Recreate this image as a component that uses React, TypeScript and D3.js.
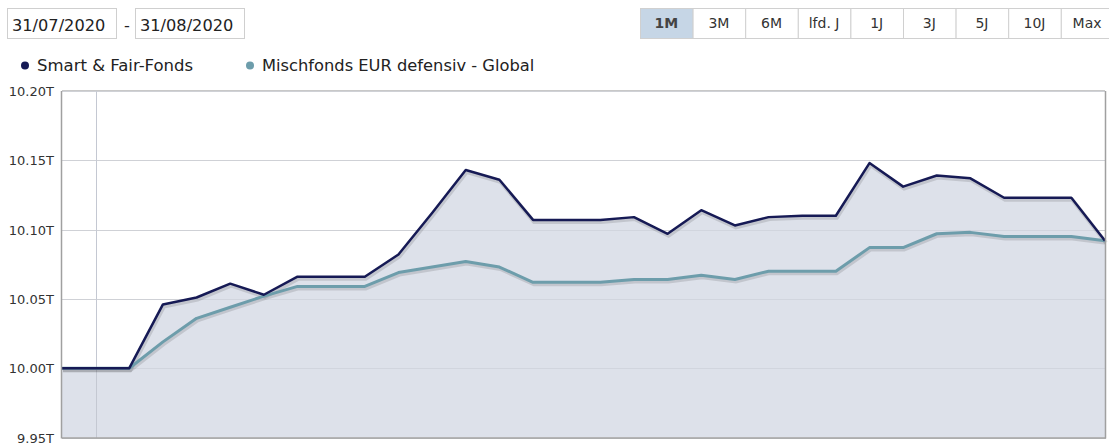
import React from "react";
import * as d3 from "d3";

const dates = [
  "2020-07-31","2020-08-01","2020-08-02","2020-08-03","2020-08-04","2020-08-05","2020-08-06","2020-08-07",
  "2020-08-08","2020-08-09","2020-08-10","2020-08-11","2020-08-12","2020-08-13","2020-08-14","2020-08-15",
  "2020-08-16","2020-08-17","2020-08-18","2020-08-19","2020-08-20","2020-08-21","2020-08-22","2020-08-23",
  "2020-08-24","2020-08-25","2020-08-26","2020-08-27","2020-08-28","2020-08-29","2020-08-30","2020-08-31",
];
const smartFair = [
  10.0, 10.0, 10.0, 10.046, 10.051, 10.061, 10.053, 10.066,
  10.066, 10.066, 10.082, 10.112, 10.143, 10.136, 10.107, 10.107,
  10.107, 10.109, 10.097, 10.114, 10.103, 10.109, 10.110, 10.110,
  10.148, 10.131, 10.139, 10.137, 10.123, 10.123, 10.123, 10.092,
];
const mischfonds = [
  10.0, 10.0, 10.0, 10.019, 10.036, 10.044, 10.052, 10.059,
  10.059, 10.059, 10.069, 10.073, 10.077, 10.073, 10.062, 10.062,
  10.062, 10.064, 10.064, 10.067, 10.064, 10.070, 10.070, 10.070,
  10.087, 10.087, 10.097, 10.098, 10.095, 10.095, 10.095, 10.092,
];
const yTicks = [9.95, 10.0, 10.05, 10.1, 10.15, 10.2];
const seriesNames = ["Smart & Fair-Fonds", "Mischfonds EUR defensiv - Global"];
const rangeButtons = ["1M", "3M", "6M", "lfd. J", "1J", "3J", "5J", "10J", "Max"];
const dateFrom = "31/07/2020";
const dateTo = "31/08/2020";

const W = 1109;
const H = 446;
const FONT = "'DejaVu Sans', Verdana, sans-serif";

export default function App() {
  const parse = d3.timeParse("%Y-%m-%d");
  const xs = dates.map((d) => parse(d) as Date);
  const left = 62, right = 1105, top = 91, bottom = 437.5;
  const x = d3.scaleTime().domain([xs[0], xs[xs.length - 1]]).range([left, right]);
  const y = d3.scaleLinear().domain([9.95, 10.2]).range([bottom, top]);

  const line = d3
    .line<number>()
    .x((_, i) => x(xs[i]))
    .y((v) => y(v));
  const area = d3
    .area<number>()
    .x((_, i) => x(xs[i]))
    .y0(bottom)
    .y1((v) => y(v));

  const monthTicks = x.ticks(d3.timeMonth.every(1) as any).filter((t) => x(t) > left + 1 && x(t) < right - 1);

  const btnX0 = 640, btnW = 52.6, btnY = 8, btnH = 30;
  const colors = ["#161a55", "#6d9dab"];

  return (
    <svg width={W} height={H} style={{ position: "absolute", left: 0, top: 0, fontFamily: FONT }}>
      <rect x={0} y={0} width={W} height={H} fill="#fff" />
      {/* date boxes */}
      <rect x={7.5} y={8.5} width={109} height={30} fill="#fff" stroke="#cfcfcf" />
      <text x={12} y={30.5} fontSize={16.2} fill="#222">{dateFrom}</text>
      <text x={124} y={30.5} fontSize={16.2} fill="#222">-</text>
      <rect x={135.5} y={8.5} width={109} height={30} fill="#fff" stroke="#cfcfcf" />
      <text x={140} y={30.5} fontSize={16.2} fill="#222">{dateTo}</text>

      {/* range buttons */}
      {rangeButtons.map((b, i) => (
        <g key={b}>
          <rect
            x={btnX0 + i * btnW + 0.5}
            y={btnY + 0.5}
            width={btnW}
            height={btnH}
            fill={i === 0 ? "#c6d6e6" : "#fff"}
            stroke="#d0d0d0"
          />
          <text
            x={btnX0 + i * btnW + btnW / 2}
            y={btnY + 20}
            textAnchor="middle"
            fontSize={14}
            fontWeight={i === 0 ? "bold" : "normal"}
            fill={i === 0 ? "#444" : "#333"}
          >
            {b}
          </text>
        </g>
      ))}

      {/* legend */}
      <circle cx={25} cy={65.5} r={4} fill={colors[0]} />
      <text x={37} y={71} fontSize={16.5} fill="#222">{seriesNames[0]}</text>
      <circle cx={250} cy={65.5} r={4} fill={colors[1]} />
      <text x={262} y={71} fontSize={16.3} fill="#222">{seriesNames[1]}</text>

      {/* gridlines */}
      {yTicks.map((t) => (
        <line key={t} x1={left} x2={right} y1={Math.round(y(t)) + 0.5} y2={Math.round(y(t)) + 0.5} stroke="#d6d6d6" />
      ))}
      {monthTicks.map((t) => (
        <line key={+t} x1={Math.round(x(t)) + 0.5} x2={Math.round(x(t)) + 0.5} y1={top} y2={bottom} stroke="#d0d0d0" />
      ))}

      {/* area */}
      <path d={area(smartFair) || ""} fill="#dde1ea" />
      {monthTicks.map((t) => (
        <line key={"v" + +t} x1={Math.round(x(t)) + 0.5} x2={Math.round(x(t)) + 0.5} y1={top} y2={bottom} stroke="#c4c8d2" />
      ))}
      {yTicks.map((t) => (
        <line key={"h" + t} x1={left} x2={right} y1={Math.round(y(t)) + 0.5} y2={Math.round(y(t)) + 0.5} stroke="#c9cdd6" strokeOpacity={0.6} />
      ))}

      {/* shadows */}
      <path d={line(mischfonds) || ""} fill="none" stroke="#000" strokeOpacity={0.12} strokeWidth={4} transform="translate(1,2)" />
      <path d={line(smartFair) || ""} fill="none" stroke="#000" strokeOpacity={0.12} strokeWidth={4} transform="translate(1,2)" />
      {/* lines */}
      <path d={line(mischfonds) || ""} fill="none" stroke={colors[1]} strokeWidth={3} strokeLinejoin="round" />
      <path d={line(smartFair) || ""} fill="none" stroke={colors[0]} strokeWidth={2.5} strokeLinejoin="round" />

      {/* frame */}
      <line x1={left - 0.5} x2={left - 0.5} y1={top} y2={bottom + 1} stroke="#a0a0a0" strokeWidth={1.5} />
      <line x1={left} x2={right + 1} y1={bottom + 0.5} y2={bottom + 0.5} stroke="#a0a0a0" strokeWidth={1.5} />
      <line x1={right + 0.5} x2={right + 0.5} y1={top} y2={bottom + 1} stroke="#a0a0a0" strokeWidth={1.5} />
      <line x1={left} x2={right} y1={top - 0.5} y2={top - 0.5} stroke="#c8c8c8" />

      {/* y axis labels */}
      {yTicks.map((t) => (
        <text key={"l" + t} x={54} y={y(t) + 5} textAnchor="end" fontSize={13} fill="#333">
          {d3.format(".2f")(t)}T
        </text>
      ))}
    </svg>
  );
}
